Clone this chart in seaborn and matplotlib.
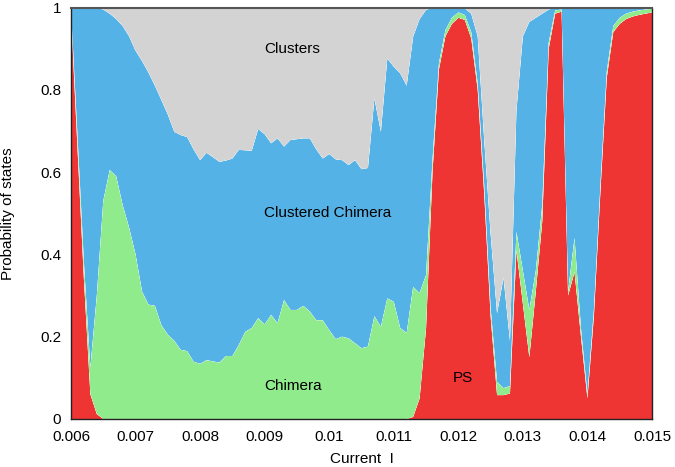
import numpy as np
import pandas as pd
import matplotlib
matplotlib.use("Agg")
import matplotlib.pyplot as plt
import seaborn as sns
import seaborn.objects as so

# Current values (x axis)
current = np.round(np.arange(0.006, 0.01500001, 0.0001), 5)

# Upper edge of each band (cumulative probability)
ps_top = [0.985, 0.66, 0.34, 0.06, 0.012, 0, 0, 0, 0, 0,
          0, 0, 0, 0, 0, 0, 0, 0, 0, 0,
          0, 0, 0, 0, 0, 0, 0, 0, 0, 0,
          0, 0, 0, 0, 0, 0, 0, 0, 0, 0,
          0, 0, 0, 0, 0, 0, 0, 0, 0, 0,
          0, 0, 0, 0.005, 0.05, 0.22, 0.6, 0.85, 0.93, 0.96,
          0.975, 0.97, 0.925, 0.8, 0.55, 0.25, 0.058, 0.058, 0.062, 0.41,
          0.28, 0.15, 0.31, 0.48, 0.9, 0.985, 0.99, 0.30, 0.357, 0.2,
          0.05, 0.25, 0.55, 0.83, 0.94, 0.96, 0.972, 0.978, 0.982, 0.985,
          0.988]

chimera_top = [0.995, 0.69, 0.38, 0.125, 0.3, 0.53, 0.605, 0.59, 0.52, 0.465,
               0.40, 0.31, 0.278, 0.275, 0.228, 0.205, 0.19, 0.168, 0.165, 0.139,
               0.134, 0.143, 0.14, 0.137, 0.153, 0.153, 0.18, 0.212, 0.221, 0.245,
               0.23, 0.253, 0.233, 0.289, 0.265, 0.265, 0.275, 0.261, 0.24, 0.24,
               0.216, 0.194, 0.20, 0.196, 0.184, 0.172, 0.176, 0.25, 0.224, 0.293,
               0.285, 0.221, 0.209, 0.321, 0.306, 0.35, 0.63, 0.865, 0.945, 0.975,
               0.988, 0.982, 0.94, 0.815, 0.57, 0.27, 0.09, 0.075, 0.08, 0.455,
               0.36, 0.265, 0.36, 0.52, 0.915, 0.993, 0.995, 0.31, 0.44, 0.22,
               0.06, 0.265, 0.565, 0.845, 0.955, 0.975, 0.985, 0.99, 0.993, 0.995,
               0.997]

clustered_top = [1.0, 1.0, 1.0, 1.0, 1.0, 0.995, 0.985, 0.972, 0.955, 0.93,
                 0.895, 0.87, 0.842, 0.81, 0.775, 0.74, 0.698, 0.69, 0.685, 0.655,
                 0.629, 0.647, 0.636, 0.625, 0.628, 0.633, 0.654, 0.653, 0.652, 0.705,
                 0.692, 0.67, 0.682, 0.662, 0.678, 0.68, 0.682, 0.682, 0.655, 0.633,
                 0.644, 0.631, 0.629, 0.617, 0.629, 0.607, 0.61, 0.779, 0.698, 0.876,
                 0.856, 0.84, 0.81, 0.929, 0.972, 0.994, 1.0, 1.0, 1.0, 1.0,
                 1.0, 0.998, 0.985, 0.93, 0.68, 0.45, 0.257, 0.343, 0.19, 0.75,
                 0.93, 0.965, 0.975, 0.985, 0.995, 1.0, 1.0, 1.0, 1.0, 1.0,
                 1.0, 1.0, 1.0, 1.0, 1.0, 1.0, 1.0, 1.0, 1.0, 1.0,
                 1.0]

states = ["PS", "Chimera", "Clustered Chimera", "Clusters"]
colors = ["#EF3434", "#90EB8D", "#55B2E6", "#D3D3D3"]

xticks = [0.006, 0.007, 0.008, 0.009, 0.010, 0.011, 0.012, 0.013, 0.014, 0.015]
xticklabels = ["0.006", "0.007", "0.008", "0.009", "0.01", "0.011",
               "0.012", "0.013", "0.014", "0.015"]
yticks = [0, 0.2, 0.4, 0.6, 0.8, 1.0]
yticklabels = ["0", "0.2", "0.4", "0.6", "0.8", "1"]

# band probabilities
r = np.array(ps_top)
g = np.array(chimera_top)
b = np.array(clustered_top)
bands = {
    "PS": r,
    "Chimera": g - r,
    "Clustered Chimera": b - g,
    "Clusters": 1.0 - b,
}
df = pd.concat(
    [pd.DataFrame({"current": current, "prob": bands[s], "state": s}) for s in states],
    ignore_index=True,
)

sns.set_theme(style="white")
plt.rcParams["font.family"] = ["Liberation Sans", "DejaVu Sans"]

fig = plt.figure(figsize=(6.75, 4.67), dpi=100)
ax = fig.add_axes([71 / 675, 1 - 419 / 467, (652 - 71) / 675, (419 - 7.5) / 467])

(
    so.Plot(df, x="current", y="prob", color="state")
    .add(so.Area(alpha=1, edgewidth=0), so.Stack(), legend=False)
    .scale(color=so.Nominal(dict(zip(states, colors)), order=states))
    .on(ax)
    .plot()
)

ax.set_xlim(0.006, 0.015)
ax.set_ylim(0, 1)
ax.set_xticks(xticks)
ax.set_xticklabels(xticklabels)
ax.set_yticks(yticks)
ax.set_yticklabels(yticklabels)
ax.tick_params(length=0, labelsize=11, colors="black")
ax.tick_params(axis="x", pad=8)
ax.tick_params(axis="y", pad=7)
ax.grid(False)
ax.set_facecolor("white")
for side in ["left", "right", "top", "bottom"]:
    ax.spines[side].set_visible(True)
    ax.spines[side].set_color("#222222")
    ax.spines[side].set_linewidth(1.0)
    ax.spines[side].set_zorder(5)
ax.spines["top"].set_color("#555555")
ax.spines["top"].set_linewidth(1.5)

ax.set_xlabel("Current  I", fontsize=11, color="black", labelpad=6)
ax.set_ylabel("Probability of states", fontsize=11, color="black", labelpad=10)
ax.yaxis.set_label_coords(-56 / 581, 0.5)

txt = dict(fontsize=11, color="black", ha="center", va="center")
ax.text(0.00943, 0.899, "Clusters", **txt)
ax.text(0.00998, 0.500, "Clustered Chimera", **txt)
ax.text(0.00944, 0.079, "Chimera", **txt)
ax.text(0.01207, 0.099, "PS", **txt)

fig.savefig("out.png", dpi=100)
